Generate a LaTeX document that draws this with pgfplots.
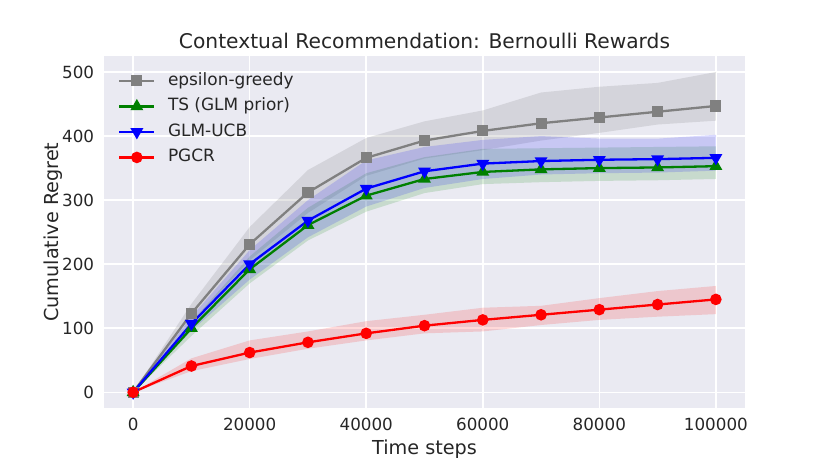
\documentclass[border=0pt]{standalone}
\usepackage{pgfplots}
\pgfplotsset{compat=1.18}
\usepackage{pgfplotstable}
\usepgfplotslibrary{fillbetween}
\usepackage{fontspec}
\setmainfont{DejaVu Sans}
\definecolor{bgc}{RGB}{234,234,242}
\definecolor{txt}{RGB}{38,38,38}
\definecolor{cgray}{RGB}{128,128,128}
\definecolor{cgreen}{RGB}{0,128,0}
\definecolor{cblue}{RGB}{0,0,255}
\definecolor{cred}{RGB}{255,0,0}

\pgfplotstableread{
x      m    u    l
0      0    0    0
10000  123  138  108
20000  231  258  206
30000  312  347  280
40000  366  397  338
50000  393  423  365
60000  408  440  378
70000  420  468  393
80000  429  477  405
90000  438  483  418
100000 447  500  424
}\eg
\pgfplotstableread{
x      m    u    l
0      0    0    0
10000  100  110  88
20000  192  212  170
30000  261  288  237
40000  307  342  282
50000  333  367  311
60000  344  380  325
70000  348  381  328
80000  350  382  330
90000  351  383  331
100000 353  384  333
}\ts
\pgfplotstableread{
x      m    u    l
0      0    0    0
10000  107  118  96
20000  200  222  176
30000  268  300  242
40000  318  362  290
50000  345  383  319
60000  357  394  333
70000  361  400  340
80000  363  396  342
90000  364  396  343
100000 366  402  346
}\ucb
\pgfplotstableread{
x      m    u    l
0      0    0    0
10000  41   53   33
20000  62   81   52
30000  78   95   68
40000  92   111  81
50000  104  121  92
60000  113  132  95
70000  121  135  105
80000  129  147  113
90000  137  158  118
100000 145  166  122
}\pg

\begin{document}
\begin{tikzpicture}
\begin{axis}[
  at={(104bp,58.7bp)}, anchor=south west,
  scale only axis, width=641bp, height=352.3bp,
  xmin=-5000, xmax=105000, ymin=-25, ymax=525,
  xtick={0,20000,40000,60000,80000,100000},
  xticklabels={0,20000,40000,60000,80000,100000},
  ytick={0,100,200,300,400,500},
  yticklabels={0,100,200,300,400,500},
  scaled ticks=false,
  axis background/.style={fill=bgc},
  axis line style={draw=none},
  major tick length=0pt,
  grid=major,
  grid style={white, line width=1.5bp},
  ticklabel style={font=\fontsize{16.8}{20}\selectfont, text=txt},
  xticklabel style={inner sep=0pt, anchor=north, yshift=-10bp},
  yticklabel style={inner sep=0pt, anchor=east, xshift=-9.7bp},
  title={Contextual Recommendation: Bernoulli Rewards},
  title style={font=\fontsize{20.3}{24}\selectfont, text=txt, at={(axis description cs:0.5,1)}, anchor=base, yshift=1.9bp, inner sep=0pt},
  xlabel={Time steps},
  xlabel style={font=\fontsize{19.3}{23}\selectfont, text=txt, at={(axis description cs:0.5,0)}, anchor=base, yshift=-45.7bp, inner sep=0pt},
  ylabel={Cumulative Regret},
  ylabel style={font=\fontsize{19.3}{23}\selectfont, text=txt, at={(axis description cs:-0.0707,0.5)}, anchor=base, inner sep=0pt},
  legend style={at={(axis description cs:0,1)}, anchor=north west, xshift=14bp, yshift=-17bp,
    draw=none, fill=none, inner sep=0pt, font=\fontsize{17}{20}\selectfont, text=txt,
    row sep=10bp, column sep=12.5bp,
    nodes={inner sep=0pt, text height=12bp, text depth=3.5bp, anchor=west}},
  legend cell align=left,
  legend image code/.code={\draw[mark repeat=2,mark phase=2] plot coordinates {(0bp,0bp)(17.5bp,0bp)(35bp,0bp)};},
]
% bands
\addplot[name path=egu, draw=none, forget plot] table[x=x,y=u] {\eg};
\addplot[name path=egl, draw=none, forget plot] table[x=x,y=l] {\eg};
\addplot[fill=cgray, fill opacity=0.2, draw=none, forget plot] fill between[of=egu and egl];
\addplot[name path=tsu, draw=none, forget plot] table[x=x,y=u] {\ts};
\addplot[name path=tsl, draw=none, forget plot] table[x=x,y=l] {\ts};
\addplot[fill=cgreen, fill opacity=0.15, draw=none, forget plot] fill between[of=tsu and tsl];
\addplot[name path=ucu, draw=none, forget plot] table[x=x,y=u] {\ucb};
\addplot[name path=ucl, draw=none, forget plot] table[x=x,y=l] {\ucb};
\addplot[fill=cblue, fill opacity=0.15, draw=none, forget plot] fill between[of=ucu and ucl];
\addplot[name path=pgu, draw=none, forget plot] table[x=x,y=u] {\pg};
\addplot[name path=pgl, draw=none, forget plot] table[x=x,y=l] {\pg};
\addplot[fill=cred, fill opacity=0.15, draw=none, forget plot] fill between[of=pgu and pgl];
% lines
\addplot[cgray, line width=2.3bp, mark=square*, mark size=4.4bp, mark options={solid, fill=cgray}] table[x=x,y=m] {\eg};
\addlegendentry{epsilon-greedy}
\addplot[cgreen, line width=2.3bp, mark=triangle*, mark size=5.2bp, mark options={solid, fill=cgreen}] table[x=x,y=m] {\ts};
\addlegendentry{TS (GLM prior)}
\addplot[cblue, line width=2.3bp, mark=triangle*, mark size=5.2bp, mark options={solid, fill=cblue, rotate=180}] table[x=x,y=m] {\ucb};
\addlegendentry{GLM-UCB}
\addplot[cred, line width=2.3bp, mark=*, mark size=4.6bp, mark options={solid, fill=cred}] table[x=x,y=m] {\pg};
\addlegendentry{PGCR}
\end{axis}
\pgfresetboundingbox
\useasboundingbox (0,0) rectangle (830bp,467bp);
\end{tikzpicture}
\end{document}
